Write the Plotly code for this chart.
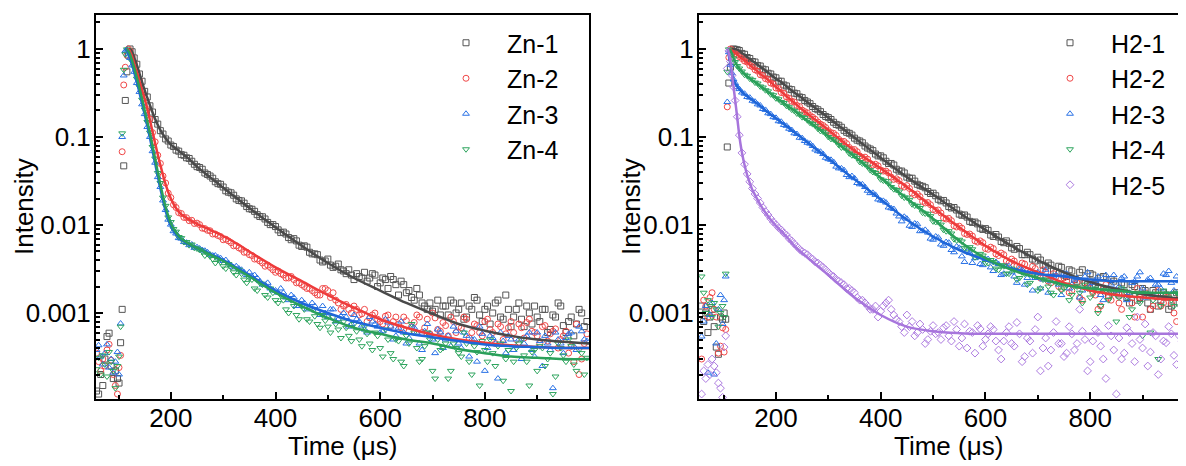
import plotly.graph_objects as go

# ---------------- time grids (µs) ----------------
T = [58, 62, 66, 70, 74, 78, 82, 86, 90, 94, 98, 101,
     104, 107, 110, 113, 116, 119, 122,
     126, 130, 135, 140, 145, 150, 155, 160, 165, 170, 175, 180, 185, 190, 195, 200,
     205, 210, 215, 220, 225, 230, 235, 240, 245, 250,
     260, 270, 280, 290, 300, 310, 320, 330, 340, 350,
     360, 370, 380, 390, 400, 410, 420, 430, 440, 450,
     460, 470, 480, 490, 500, 510, 520, 530, 540, 550,
     560, 570, 580, 590, 600, 610, 620, 630, 640, 650,
     660, 670, 680, 690, 700, 710, 720, 730, 740, 750,
     760, 770, 780, 790, 800, 810, 820, 830, 840, 850,
     860, 870, 880, 890, 900, 910, 920, 930, 940, 950,
     960, 970, 980, 990]

# second set of sample times (between the 10-µs samples above)
T_B = [255, 265, 275, 285, 295, 305, 315, 325, 335, 345,
       355, 365, 375, 385, 395, 405, 415, 425, 435, 445,
       455, 465, 475, 485, 495, 505, 515, 525, 535, 545,
       555, 565, 575, 585, 595, 605, 615, 625, 635, 645,
       655, 665, 675, 685, 695, 705, 715, 725, 735, 745,
       755, 765, 775, 785, 795, 805, 815, 825, 835, 845,
       855, 865, 875, 885, 895, 905, 915, 925, 935, 945,
       955, 965, 975, 985, 995]

TF = [104, 108, 112, 116, 120, 124, 128, 132, 136, 140, 145, 150, 155, 160, 170, 180, 190, 200,
      210, 220, 235, 250, 275, 300, 325, 350, 400, 450, 500, 550, 600, 650, 700, 750, 800, 850,
      900, 950, 1000]

# ---------------- left panel data ----------------
ZN1 = [1.3e-4, 1.2e-4, 2.0e-4, 1.5e-4, 3.0e-4, 5.4e-4, 5.9e-4, 2.5e-4, 1.8e-4, 2.2e-4, 1.8e-4, 1.6e-4,
       4.6e-4, 1.1e-3, 0.047, 0.26, 0.55, 0.85, 1.0,
       0.93, 0.79, 0.67, 0.52, 0.43, 0.33, 0.285, 0.226, 0.192, 0.158, 0.14, 0.118, 0.108, 0.095, 0.09, 0.081,
       0.078, 0.071, 0.069, 0.063, 0.062, 0.058, 0.057, 0.053, 0.049, 0.046,
       0.043, 0.0375, 0.034, 0.0295, 0.027, 0.0236, 0.0218, 0.019, 0.0177, 0.0153,
       0.0143, 0.0125, 0.0117, 0.0101, 0.0096, 0.0082, 0.0079, 0.0068, 0.0066, 0.0057,
       0.0056, 0.0047, 0.0046, 0.0038, 0.0041, 0.0033, 0.0036, 0.0030, 0.0031, 0.0024,
       0.0026, 0.0029, 0.0025, 0.0027, 0.0022, 0.0024, 0.0026, 0.0021, 0.0023, 0.0017,
       0.0015, 0.0019, 0.0013, 0.0011, 0.00105, 0.0014, 0.0012, 0.00095, 0.0013, 0.0011,
       0.00085, 0.0012, 0.0015, 0.00095, 0.0011, 0.00075, 0.0013, 0.0009, 0.0016, 0.0007,
       0.0011, 0.00085, 0.0012, 0.00075, 0.0009, 0.0011, 0.0006, 0.00095, 0.0013, 0.00072,
       0.0008, 0.00055, 0.0011, 0.0007]
ZN1_B = [0.045, 0.039, 0.036, 0.031, 0.029, 0.0245, 0.0232, 0.0198, 0.0188, 0.0162,
         0.0151, 0.0131, 0.0124, 0.0107, 0.0101, 0.0088, 0.0083, 0.0072, 0.007, 0.0059,
         0.0058, 0.0049, 0.0047, 0.004, 0.0039, 0.0035, 0.0034, 0.0031, 0.0028, 0.0027,
         0.0028, 0.0025, 0.0023, 0.0028, 0.002, 0.0025, 0.0019, 0.0024, 0.0016, 0.0021,
         0.0018, 0.0014, 0.0016, 0.0012, 0.0013, 0.0011, 0.00095, 0.0012, 0.0014, 0.001,
         0.0013, 0.0009, 0.0011, 0.0014, 0.0008, 0.0012, 0.001, 0.0014, 0.00085, 0.0011,
         0.0009, 0.0013, 0.0007, 0.001, 0.0012, 0.0008, 0.0011, 0.00065, 0.0009, 0.0012,
         0.0006, 0.0009, 0.00075, 0.001, 0.0008]
ZN2 = [3.5e-4, 2.8e-4, 2.2e-4, 3.0e-4, 2.5e-4, 3.8e-4, 4.4e-4, 2.9e-4, 2.0e-4, 1.5e-4, 1.2e-4, 2.4e-4,
       3.3e-4, 0.068, 0.39, 0.62, 0.85, 1.0, 0.95,
       0.82, 0.69, 0.54, 0.44, 0.335, 0.275, 0.205, 0.16, 0.112, 0.088, 0.062, 0.05, 0.036, 0.03, 0.023, 0.0205,
       0.017, 0.0158, 0.0138, 0.0135, 0.0122, 0.0121, 0.0112, 0.0113, 0.0104, 0.0105,
       0.0092, 0.0087, 0.0079, 0.0076, 0.0068, 0.0066, 0.0058, 0.0055, 0.0049, 0.0046,
       0.0041, 0.0039, 0.0034, 0.0033, 0.0029, 0.0028, 0.0025, 0.0026, 0.0022, 0.0021,
       0.0019, 0.0018, 0.0016, 0.0019, 0.0018, 0.0017, 0.0013, 0.0012, 0.0011, 0.0012,
       0.00095, 0.0011, 0.00088, 0.001, 0.0008, 0.00092, 0.00072, 0.0009, 0.00068, 0.00082,
       0.0007, 0.00095, 0.0006, 0.00085, 0.001, 0.00065, 0.00078, 0.00055, 0.0008, 0.0007,
       0.0009, 0.00052, 0.00075, 0.0006, 0.0008, 0.00065, 0.00045, 0.0007, 0.00058, 0.0008,
       0.0005, 0.00068, 0.00078, 0.00062, 0.00055, 0.0007, 0.00048, 0.00062, 0.0004, 0.00055,
       0.00035, 0.00028, 0.0002, 0.00045]
ZN2_B = [0.0101, 0.0091, 0.0086, 0.0079, 0.0074, 0.0069, 0.0063, 0.0058, 0.0053, 0.0049,
         0.0045, 0.0041, 0.0037, 0.0035, 0.0031, 0.003, 0.0027, 0.0025, 0.0024, 0.0022,
         0.002, 0.0019, 0.0017, 0.0016, 0.0019, 0.0015, 0.0014, 0.0011, 0.00125, 0.001,
         0.0011, 0.00098, 0.0008, 0.00095, 0.00085, 0.00075, 0.00095, 0.0008, 0.00075, 0.0009,
         0.00062, 0.00078, 0.0009, 0.00068, 0.00058, 0.00088, 0.00062, 0.00072, 0.0009, 0.0006,
         0.00068, 0.00085, 0.0006, 0.00072, 0.00055, 0.00085, 0.0006, 0.00075, 0.0005, 0.00068,
         0.0006, 0.00075, 0.00052, 0.00085, 0.0006, 0.00045, 0.00072, 0.00058, 0.00066, 0.0005,
         0.00062, 0.00042, 0.00075, 0.0003, 0.00058]
ZN3 = [3.8e-4, 4.3e-4, 3.2e-4, 2.6e-4, 3.5e-4, 4.4e-4, 2.4e-4, 3.0e-4, 2.1e-4, 2.8e-4, 3.6e-4, 2.0e-4,
       7.6e-4, 0.1, 0.5, 0.95, 0.98, 0.87, 0.79,
       0.65, 0.55, 0.41, 0.325, 0.235, 0.182, 0.13, 0.1, 0.069, 0.051, 0.035, 0.027, 0.019, 0.0148, 0.0115, 0.0101,
       0.0085, 0.008, 0.0071, 0.007, 0.0064, 0.0063, 0.0059, 0.006, 0.0055, 0.0056,
       0.0052, 0.0049, 0.0045, 0.0043, 0.0039, 0.0037, 0.0033, 0.0032, 0.0029, 0.0029,
       0.0027, 0.0023, 0.0021, 0.0019, 0.0018, 0.0019, 0.0015, 0.0016, 0.0012, 0.0014,
       0.0011, 0.0013, 0.00105, 0.0012, 0.0009, 0.0011, 0.00085, 0.001, 0.0007, 0.00095,
       0.0008, 0.00065, 0.0009, 0.00075, 0.0006, 0.00085, 0.0007, 0.00055, 0.0008, 0.00045,
       0.0007, 0.0006, 0.00038, 0.00075, 0.0005, 0.00065, 0.0004, 0.00055, 0.0007, 0.00045,
       0.0006, 0.00032, 0.0005, 0.0007, 0.00022, 0.00055, 0.00045, 0.0006, 0.00035, 0.0005,
       0.00042, 0.0003, 0.00055, 0.00038, 0.0006, 0.00025, 0.00045, 0.00014, 0.0005, 0.00035,
       0.00058, 0.00042, 0.0007, 0.0005]
ZN3_B = [0.0054, 0.0051, 0.0046, 0.0045, 0.0042, 0.004, 0.0035, 0.0034, 0.0031, 0.0027,
         0.0026, 0.0025, 0.0021, 0.0022, 0.0018, 0.0017, 0.0017, 0.0014, 0.0015, 0.0012,
         0.0013, 0.00115, 0.0012, 0.00095, 0.001, 0.0011, 0.0008, 0.00092, 0.0009, 0.00075,
         0.00085, 0.00072, 0.0006, 0.0008, 0.0007, 0.00062, 0.00078, 0.0005, 0.00068, 0.0006,
         0.00052, 0.00068, 0.00045, 0.00062, 0.00058, 0.00035, 0.0006, 0.0005, 0.00042, 0.00062,
         0.0004, 0.00055, 0.0005, 0.00028, 0.00058, 0.0004, 0.00052, 0.00018, 0.00048, 0.00055,
         0.00038, 0.0005, 0.00045, 0.0006, 0.00032, 0.00048, 0.00055, 0.00038, 0.0006, 0.00045,
         0.00052, 0.0006, 0.00038, 0.00062, 0.00048]
ZN4 = [2.3e-4, 3.1e-4, 2.0e-4, 3.3e-4, 2.6e-4, 1.9e-4, 3.6e-4, 2.8e-4, 2.2e-4, 1.4e-4, 2.5e-4, 3.2e-4,
       7.0e-4, 0.11, 0.58, 0.87, 0.99, 0.96, 0.88,
       0.72, 0.62, 0.46, 0.37, 0.265, 0.205, 0.148, 0.112, 0.077, 0.057, 0.039, 0.03, 0.0205, 0.0165, 0.0122, 0.0108,
       0.009, 0.0084, 0.0073, 0.0071, 0.0064, 0.0064, 0.0059, 0.006, 0.0055, 0.0054,
       0.0050, 0.0047, 0.0041, 0.0040, 0.0034, 0.0036, 0.0029, 0.0031, 0.0024, 0.0025,
       0.0019, 0.0022, 0.0016, 0.0019, 0.0014, 0.0016, 0.0011, 0.0014, 0.00095, 0.0012,
       0.00085, 0.0011, 0.00075, 0.00095, 0.0007, 0.0009, 0.00065, 0.0008, 0.00055, 0.00075,
       0.0005, 0.0007, 0.00045, 0.0006, 0.0004, 0.00065, 0.00035, 0.0005, 0.00028, 0.00055,
       0.00075, 0.0004, 0.0003, 0.0006, 0.00022, 0.0005, 0.0004, 0.00018, 0.00045, 0.00035,
       0.0006, 0.00028, 0.00042, 0.00015, 0.00038, 0.0005, 0.00025, 0.00045, 0.0003, 0.00013,
       0.0004, 0.0005, 0.00028, 0.00036, 0.00022, 0.0004, 0.0003, 0.00012, 0.00045, 0.00033,
       0.0005, 0.00026, 0.00038, 0.0002]
ZN4_B = [0.0052, 0.0045, 0.0044, 0.0037, 0.0038, 0.0032, 0.0033, 0.0027, 0.0028, 0.0022,
         0.0024, 0.0018, 0.0021, 0.0015, 0.0017, 0.0013, 0.0014, 0.001, 0.0012, 0.00085,
         0.0011, 0.0008, 0.00092, 0.00068, 0.00082, 0.0006, 0.00075, 0.00052, 0.00068, 0.00048,
         0.00062, 0.00042, 0.00058, 0.00038, 0.00055, 0.00032, 0.0005, 0.0003, 0.00048, 0.00025,
         0.00045, 0.0006, 0.00028, 0.00042, 0.0005, 0.00018, 0.00038, 0.00045, 0.00022, 0.0004,
         0.00032, 0.00045, 0.0002, 0.00036, 0.00048, 0.00028, 0.00035, 0.00042, 0.00017, 0.00038,
         0.00028, 0.00045, 0.00033, 0.00015, 0.00038, 0.00042, 0.00025, 0.00035, 0.00019, 0.0004,
         0.00028, 0.00042, 0.00022, 0.00035, 0.00031]

ZN1_FIT = [None, None, None, None, 1.0, 0.97, 0.86, 0.74, 0.63, 0.53, 0.42, 0.34, 0.28, 0.23, 0.16, 0.12,
           0.097, 0.082, 0.0735, 0.066, 0.056, 0.046, 0.035, 0.0265, 0.0203, 0.0156, 0.0094, 0.0058, 0.0037,
           0.0025, 0.0018, 0.0013, 0.00098, 0.00075, 0.00063, 0.00055, 0.0005, 0.00047, 0.00045]
ZN2_FIT = [None, None, None, 1.0, 0.98, 0.88, 0.75, 0.62, 0.52, 0.43, 0.34, 0.27, 0.21, 0.156, 0.085, 0.048,
           0.029, 0.020, 0.0155, 0.0132, 0.0115, 0.0103, 0.0088, 0.0075, 0.0062, 0.0050, 0.0033, 0.0023,
           0.0016, 0.00115, 0.00085, 0.00068, 0.00057, 0.0005, 0.00046, 0.00043, 0.00041, 0.0004, 0.0004]
ZN3_FIT = [None, None, 1.0, 0.97, 0.85, 0.72, 0.60, 0.49, 0.40, 0.32, 0.24, 0.18, 0.135, 0.098, 0.050, 0.026,
           0.0145, 0.0098, 0.0078, 0.0068, 0.006, 0.0055, 0.0047, 0.0040, 0.0033, 0.0027, 0.0018, 0.0013,
           0.001, 0.0008, 0.00068, 0.00059, 0.00053, 0.00048, 0.00044, 0.00042, 0.00041, 0.0004, 0.0004]
ZN4_FIT = [None, None, None, 1.0, 0.93, 0.80, 0.67, 0.55, 0.45, 0.36, 0.27, 0.20, 0.15, 0.11, 0.056, 0.029,
           0.016, 0.0105, 0.0082, 0.007, 0.0061, 0.0055, 0.0046, 0.0039, 0.0032, 0.0026, 0.0017, 0.0012,
           0.00088, 0.00068, 0.00058, 0.0005, 0.00045, 0.00039, 0.00035, 0.00032, 0.00031, 0.0003, 0.0003]

# ---------------- right panel data ----------------
H21 = [1.2e-3, 8e-4, 1.0e-3, 6e-4, 9e-4, 1.1e-3, 7e-4, 4.1e-4, 3.4e-4, 9e-4, 8.5e-4, 1.0e-3,
       8.5e-4, 0.077, 0.41, 0.62, 0.95, 1.0, 0.99,
       0.98, 0.96, 0.89, 0.87, 0.80, 0.78, 0.72, 0.71, 0.65, 0.64, 0.59, 0.58, 0.53, 0.52, 0.48, 0.47,
       0.43, 0.43, 0.39, 0.38, 0.35, 0.345, 0.315, 0.31, 0.285, 0.28,
       0.25, 0.222, 0.204, 0.18, 0.166, 0.147, 0.136, 0.119, 0.11, 0.097,
       0.09, 0.079, 0.073, 0.064, 0.061, 0.053, 0.05, 0.043, 0.041, 0.035,
       0.034, 0.029, 0.0275, 0.024, 0.023, 0.0196, 0.019, 0.0162, 0.0158, 0.0133,
       0.013, 0.011, 0.0108, 0.0092, 0.0091, 0.0077, 0.0078, 0.0065, 0.0066, 0.0055,
       0.0057, 0.0046, 0.0049, 0.0041, 0.0043, 0.0035, 0.0037, 0.003, 0.0034, 0.0027,
       0.0031, 0.0024, 0.0029, 0.0022, 0.0028, 0.0021, 0.0025, 0.0018, 0.0024, 0.0017,
       0.0022, 0.0015, 0.0021, 0.0014, 0.0019, 0.0013, 0.0018, 0.0012, 0.0017, 0.0011,
       0.0016, 0.0013, 0.0015, 0.0012]
H21_B = [0.26, 0.239, 0.21, 0.194, 0.171, 0.158, 0.139, 0.129, 0.113, 0.105,
         0.092, 0.086, 0.075, 0.07, 0.061, 0.058, 0.05, 0.048, 0.041, 0.039,
         0.034, 0.0315, 0.028, 0.0265, 0.0228, 0.0215, 0.0188, 0.0178, 0.0156, 0.0148,
         0.0129, 0.0123, 0.0107, 0.0103, 0.0089, 0.0087, 0.0074, 0.0073, 0.0063, 0.0062,
         0.0053, 0.0054, 0.0046, 0.0046, 0.0039, 0.004, 0.0034, 0.0035, 0.0029, 0.0033,
         0.0026, 0.003, 0.0023, 0.0031, 0.0021, 0.0027, 0.0019, 0.0026, 0.0016, 0.0023,
         0.0016, 0.0021, 0.0013, 0.002, 0.0015, 0.0018, 0.0011, 0.0017, 0.0014, 0.0016,
         0.0012, 0.0017, 0.0014, 0.0013, 0.0015]
H22 = [3.0e-4, 1.4e-3, 1.2e-3, 9e-4, 1.5e-3, 1.7e-3, 1.1e-3, 9e-4, 3.5e-4, 4.2e-4, 6.8e-4, 3.6e-4,
       6.5e-4, 0.22, 0.8, 1.0, 0.97, 0.93, 0.89,
       0.86, 0.82, 0.78, 0.73, 0.71, 0.65, 0.63, 0.58, 0.56, 0.51, 0.50, 0.46, 0.45, 0.41, 0.40, 0.36,
       0.355, 0.32, 0.315, 0.285, 0.275, 0.255, 0.25, 0.228, 0.222, 0.202,
       0.188, 0.168, 0.148, 0.135, 0.118, 0.11, 0.094, 0.089, 0.076, 0.072,
       0.061, 0.059, 0.05, 0.049, 0.042, 0.041, 0.035, 0.0335, 0.028, 0.028,
       0.023, 0.0225, 0.0185, 0.018, 0.015, 0.0148, 0.012, 0.0119, 0.0098, 0.0097,
       0.008, 0.0079, 0.0066, 0.0066, 0.0054, 0.0056, 0.0047, 0.0048, 0.0039, 0.0041,
       0.0034, 0.0037, 0.003, 0.0034, 0.0027, 0.0031, 0.0023, 0.0028, 0.002, 0.0025,
       0.0017, 0.0024, 0.0015, 0.0022, 0.0019, 0.0016, 0.0012, 0.0021, 0.0014, 0.0018,
       0.0011, 0.0017, 0.0013, 0.0019, 0.0009, 0.0016, 0.0012, 0.0018, 0.0013, 0.0015,
       0.001, 0.0016, 0.0012, 0.0014]
H22_B = [0.194, 0.175, 0.159, 0.14, 0.128, 0.112, 0.104, 0.089, 0.084, 0.072,
         0.068, 0.058, 0.056, 0.048, 0.047, 0.041, 0.039, 0.033, 0.032, 0.027,
         0.026, 0.022, 0.021, 0.0178, 0.017, 0.0146, 0.0137, 0.0117, 0.0112, 0.0095,
         0.0092, 0.0078, 0.0075, 0.0064, 0.0063, 0.0053, 0.0054, 0.0045, 0.0046, 0.0037,
         0.0039, 0.0033, 0.0036, 0.0029, 0.0032, 0.0025, 0.0029, 0.0022, 0.0026, 0.0019,
         0.0023, 0.0018, 0.0022, 0.0014, 0.002, 0.0017, 0.0011, 0.0019, 0.0015, 0.0018,
         0.0013, 0.0017, 0.0016, 0.0009, 0.0015, 0.0017, 0.0011, 0.0016, 0.0012, 0.0015,
         0.0013, 0.0008, 0.0015, 0.0012, 0.0014]
H23 = [5.4e-4, 8.0e-4, 1.2e-3, 2.1e-4, 9.5e-4, 1.3e-3, 2.0e-4, 4.5e-4, 1.1e-3, 1.6e-3, 7.5e-4, 1.4e-3,
       2.6e-3, 0.25, 0.92, 0.66, 0.53, 0.45, 0.41,
       0.37, 0.35, 0.32, 0.31, 0.285, 0.28, 0.258, 0.252, 0.235, 0.228, 0.208, 0.203, 0.186, 0.182, 0.168, 0.165,
       0.151, 0.149, 0.137, 0.134, 0.124, 0.12, 0.11, 0.108, 0.098, 0.097,
       0.086, 0.079, 0.069, 0.064, 0.056, 0.052, 0.044, 0.042, 0.035, 0.034,
       0.029, 0.027, 0.023, 0.022, 0.019, 0.018, 0.0155, 0.0135, 0.011, 0.0118,
       0.0095, 0.0102, 0.0086, 0.0082, 0.0068, 0.0072, 0.0058, 0.0063, 0.0049, 0.0055,
       0.0038, 0.0048, 0.0042, 0.0036, 0.0041, 0.0033, 0.0038, 0.0027, 0.0034, 0.0029,
       0.0022, 0.0031, 0.0025, 0.0018, 0.0029, 0.0024, 0.0017, 0.0026, 0.0021, 0.0028,
       0.0019, 0.0024, 0.0015, 0.0026, 0.002, 0.0023, 0.0016, 0.0027, 0.0021, 0.0018,
       0.0025, 0.0014, 0.0022, 0.0026, 0.0019, 0.0024, 0.0016, 0.0021, 0.0028, 0.003,
       0.0018, 0.0023, 0.0015, 0.0025]
H23_B = [0.09, 0.084, 0.072, 0.068, 0.058, 0.055, 0.046, 0.044, 0.037, 0.036,
         0.03, 0.029, 0.0245, 0.0232, 0.0195, 0.0188, 0.0158, 0.0152, 0.0125, 0.0124,
         0.0098, 0.0104, 0.0085, 0.0088, 0.007, 0.0074, 0.006, 0.0064, 0.0052, 0.0057,
         0.0044, 0.005, 0.0037, 0.0045, 0.0035, 0.0041, 0.003, 0.0036, 0.0028, 0.0034,
         0.0026, 0.0032, 0.0021, 0.003, 0.0025, 0.0019, 0.0031, 0.0023, 0.0027, 0.0016,
         0.0028, 0.0021, 0.0025, 0.0018, 0.0029, 0.0022, 0.0026, 0.0014, 0.0024, 0.0027,
         0.002, 0.0026, 0.0017, 0.0023, 0.0029, 0.0015, 0.0025, 0.0021, 0.0019, 0.0027,
         0.0022, 0.0026, 0.002, 0.0028, 0.0021]
H24 = [2.6e-3, 1.7e-3, 1.0e-3, 1.4e-3, 1.2e-3, 9e-4, 1.3e-3, 1.1e-3, 7e-4, 1.0e-3, 1.2e-3, 9e-4,
       2.8e-3, 0.55, 0.99, 0.96, 0.87, 0.78, 0.71,
       0.64, 0.60, 0.555, 0.51, 0.495, 0.46, 0.445, 0.415, 0.405, 0.375, 0.365, 0.34, 0.33, 0.305, 0.298, 0.275,
       0.268, 0.25, 0.243, 0.226, 0.218, 0.205, 0.198, 0.185, 0.18, 0.168,
       0.155, 0.14, 0.124, 0.115, 0.1, 0.094, 0.081, 0.076, 0.065, 0.061,
       0.052, 0.049, 0.042, 0.039, 0.033, 0.0315, 0.027, 0.025, 0.0215, 0.0205,
       0.0172, 0.0165, 0.0138, 0.0134, 0.011, 0.0108, 0.0088, 0.0085, 0.0069, 0.0068,
       0.0055, 0.0056, 0.0043, 0.0047, 0.0037, 0.004, 0.0032, 0.0035, 0.0028, 0.0032,
       0.0024, 0.0029, 0.0021, 0.0027, 0.0018, 0.0024, 0.002, 0.0016, 0.0022, 0.0019,
       0.0014, 0.002, 0.0017, 0.0021, 0.0015, 0.0019, 0.0012, 0.0018, 0.0016, 0.0008,
       0.0019, 0.0015, 0.0011, 0.0017, 0.00055, 0.0016, 0.0014, 0.0003, 0.0018, 0.0015,
       0.0012, 0.0016, 0.0014, 0.0017]
H24_B = [0.165, 0.145, 0.134, 0.117, 0.109, 0.095, 0.089, 0.076, 0.072, 0.062,
         0.058, 0.05, 0.046, 0.04, 0.037, 0.032, 0.0295, 0.0255, 0.024, 0.0205,
         0.0193, 0.0166, 0.0156, 0.0135, 0.0126, 0.0108, 0.0101, 0.0085, 0.008, 0.0067,
         0.0065, 0.0054, 0.0053, 0.0044, 0.0045, 0.0037, 0.0038, 0.0031, 0.0034, 0.0028,
         0.0031, 0.0025, 0.0028, 0.0022, 0.0026, 0.0019, 0.0024, 0.0017, 0.0022, 0.0018,
         0.0021, 0.0016, 0.002, 0.0013, 0.0019, 0.0017, 0.001, 0.0018, 0.0014, 0.0017,
         0.0015, 0.0018, 0.0009, 0.0016, 0.0013, 0.0017, 0.0006, 0.0015, 0.0012, 0.0016,
         0.0014, 0.0017, 0.0011, 0.0015, 0.0016]
H25 = [1.2e-4, 2.2e-4, 1.8e-4, 2.6e-4, 2.0e-4, 3.0e-4, 2.5e-4, 2.1e-4, 1.6e-4, 1.4e-4, 1.1e-4, 4.1e-4,
       5.5e-4, 0.6, 0.95, 0.72, 0.5, 0.37, 0.26,
       0.17, 0.105, 0.066, 0.049, 0.038, 0.031, 0.026, 0.0225, 0.02, 0.0178, 0.0158, 0.0142, 0.013, 0.0118, 0.0108, 0.0101,
       0.0093, 0.0088, 0.0081, 0.0077, 0.007, 0.0066, 0.0061, 0.0057, 0.0053, 0.005,
       0.0046, 0.0041, 0.0037, 0.0033, 0.0029, 0.0026, 0.0023, 0.0021, 0.0019, 0.0017,
       0.0014, 0.0013, 0.0011, 0.0012, 0.00105, 0.0013, 0.0011, 0.00085, 0.0007, 0.00095,
       0.0008, 0.0006, 0.00065, 0.0005, 0.00072, 0.0006, 0.00068, 0.00055, 0.0008, 0.00042,
       0.00075, 0.00062, 0.00035, 0.00066, 0.0005, 0.0007, 0.00048, 0.0003, 0.0006, 0.00045,
       0.00078, 0.00028, 0.00052, 0.00035, 0.0009, 0.0004, 0.00025, 0.0006, 0.00045, 0.00032,
       0.0007, 0.00038, 0.0011, 0.0005, 0.00028, 0.00065, 0.00042, 0.00018, 0.00055, 0.00012,
       0.0003, 0.00068, 0.00045, 0.0009, 0.0004, 0.00025, 0.0006, 0.0002, 0.00048, 0.0007,
       0.00033, 0.00055, 0.00022, 0.0004]
H25_B = [0.0048, 0.0043, 0.0038, 0.0035, 0.0031, 0.0027, 0.0024, 0.0022, 0.0019, 0.0018,
         0.0015, 0.0014, 0.0012, 0.0011, 0.0009, 0.0012, 0.0014, 0.00095, 0.0008, 0.0006,
         0.0007, 0.00055, 0.00075, 0.00045, 0.00062, 0.00058, 0.0005, 0.00072, 0.00048, 0.00065,
         0.00052, 0.0004, 0.0006, 0.00072, 0.00042, 0.00058, 0.00065, 0.00038, 0.00048, 0.0007,
         0.00042, 0.00058, 0.00032, 0.00048, 0.00065, 0.00022, 0.00052, 0.00038, 0.0008, 0.00045,
         0.00035, 0.00058, 0.00045, 0.00062, 0.00022, 0.00048, 0.0006, 0.0003, 0.00072, 0.00038,
         0.00052, 0.00035, 0.0006, 0.00028, 0.0005, 0.00075, 0.00036, 0.00055, 0.0003, 0.00046,
         0.00058, 0.00026, 0.00048, 0.0006, 0.00035]

H21_FIT = [None, None, None, 1.0, 1.0, 0.99, 0.97, 0.93, 0.89, 0.86, 0.81, 0.77, 0.73, 0.70, 0.63, 0.57,
           0.51, 0.46, 0.42, 0.376, 0.32, 0.276, 0.213, 0.165, 0.127, 0.098, 0.058, 0.035, 0.0222, 0.0138,
           0.0088, 0.0058, 0.0040, 0.0029, 0.00225, 0.00187, 0.00164, 0.0015, 0.00142]
H22_FIT = [None, None, 1.0, 0.96, 0.92, 0.88, 0.84, 0.80, 0.77, 0.74, 0.70, 0.66, 0.62, 0.59, 0.52, 0.47,
           0.42, 0.37, 0.33, 0.29, 0.245, 0.205, 0.157, 0.12, 0.091, 0.07, 0.044, 0.027, 0.0158, 0.0094,
           0.0058, 0.0039, 0.0029, 0.0022, 0.0018, 0.0016, 0.0015, 0.00143, 0.0014]
H23_FIT = [None, 0.98, 0.72, 0.53, 0.43, 0.39, 0.36, 0.34, 0.32, 0.305, 0.29, 0.275, 0.262, 0.25, 0.225, 0.20,
           0.18, 0.163, 0.147, 0.133, 0.113, 0.097, 0.074, 0.057, 0.043, 0.033, 0.0195, 0.0115, 0.0074,
           0.0052, 0.004, 0.0032, 0.0028, 0.0026, 0.0024, 0.0023, 0.0023, 0.0023, 0.0023]
H24_FIT = [None, None, 1.0, 0.88, 0.76, 0.68, 0.62, 0.58, 0.55, 0.52, 0.49, 0.465, 0.44, 0.42, 0.38, 0.345,
           0.31, 0.28, 0.255, 0.23, 0.20, 0.17, 0.132, 0.102, 0.078, 0.06, 0.0345, 0.02, 0.0118, 0.0066,
           0.0042, 0.0031, 0.0025, 0.0021, 0.0019, 0.0018, 0.0017, 0.0017, 0.0017]
H25_FIT = [None, 1.0, 0.78, 0.52, 0.33, 0.21, 0.13, 0.085, 0.062, 0.048, 0.037, 0.03, 0.025, 0.022, 0.017,
           0.0138, 0.0115, 0.0098, 0.0085, 0.0074, 0.0058, 0.0048, 0.0036, 0.0027, 0.002, 0.0015, 0.00095,
           0.0007, 0.00062, 0.00059, 0.00058, 0.00058, 0.00058, 0.00058, 0.00058, 0.00058, 0.00058,
           0.00058, 0.00058]

LEFT_NAMES = ["Zn-1", "Zn-2", "Zn-3", "Zn-4"]
RIGHT_NAMES = ["H2-1", "H2-2", "H2-3", "H2-4", "H2-5"]
Y_TICKS = [0.001, 0.01, 0.1, 1]
Y_TICKTEXT = ["0.001", "0.01", "0.1", "1"]
X_TICKS = [200, 400, 600, 800]
X_MINOR = [100, 300, 500, 700, 900]

for s in [ZN1, ZN2, ZN3, ZN4, H21, H22, H23, H24, H25]:
    assert len(s) == len(T), len(s)
for s in [ZN1_B, ZN2_B, ZN3_B, ZN4_B, H21_B, H22_B, H23_B, H24_B, H25_B]:
    assert len(s) == len(T_B), len(s)
for s in [ZN1_FIT, ZN2_FIT, ZN3_FIT, ZN4_FIT, H21_FIT, H22_FIT, H23_FIT, H24_FIT, H25_FIT]:
    assert len(s) == len(TF), len(s)

# ---------------- styles ----------------
MARKER_COLORS = ["#555555", "#f04848", "#2a72e6", "#2ea55e", "#ad7be0"]
LINE_COLORS = ["#4a4a4a", "#ee3b3b", "#1f66d8", "#2aa05a", "#a775dc"]
SYMBOLS = ["square-open", "circle-open", "triangle-up-open", "triangle-down-open", "diamond-open"]
FONT = "Liberation Sans, Arial, sans-serif"

fig = go.Figure()

left_data = [(ZN1, ZN1_B), (ZN2, ZN2_B), (ZN3, ZN3_B), (ZN4, ZN4_B)]
left_fit = [ZN1_FIT, ZN2_FIT, ZN3_FIT, ZN4_FIT]
right_data = [(H21, H21_B), (H22, H22_B), (H23, H23_B), (H24, H24_B), (H25, H25_B)]
right_fit = [H21_FIT, H22_FIT, H23_FIT, H24_FIT, H25_FIT]

for i, (name, (ya, yb)) in enumerate(zip(LEFT_NAMES, left_data)):
    fig.add_trace(go.Scatter(x=T + T_B, y=ya + yb, mode="markers", name=name, xaxis="x", yaxis="y",
                             legend="legend",
                             marker=dict(symbol=SYMBOLS[i], size=6, color=MARKER_COLORS[i],
                                         line=dict(width=1, color=MARKER_COLORS[i]))))
for i, ys in enumerate(left_fit):
    fig.add_trace(go.Scatter(x=TF, y=ys, mode="lines", showlegend=False, xaxis="x", yaxis="y",
                             line=dict(color=LINE_COLORS[i], width=2.5, shape="spline")))

for i, (name, (ya, yb)) in enumerate(zip(RIGHT_NAMES, right_data)):
    fig.add_trace(go.Scatter(x=T + T_B, y=ya + yb, mode="markers", name=name, xaxis="x2", yaxis="y2",
                             legend="legend2",
                             marker=dict(symbol=SYMBOLS[i], size=6, color=MARKER_COLORS[i],
                                         line=dict(width=1, color=MARKER_COLORS[i]))))
for i, ys in enumerate(right_fit):
    fig.add_trace(go.Scatter(x=TF, y=ys, mode="lines", showlegend=False, xaxis="x2", yaxis="y2",
                             line=dict(color=LINE_COLORS[i], width=2.5, shape="spline")))

# the page body has an 8 px margin, so the figure is drawn 8 px in from the window corner
OFF = 8
W, H = 1186 - OFF, 466 - OFF


def px(x):
    return (x - OFF) / W


def py(y):
    return 1 - (y - OFF) / H


xaxis_common = dict(
    type="linear", showline=True, linecolor="black", linewidth=2,
    ticks="inside", ticklen=7, tickwidth=2, tickcolor="black",
    tickvals=X_TICKS, showgrid=False, zeroline=False, ticklabelstandoff=-5,
    tickfont=dict(family=FONT, size=26, color="black"),
    minor=dict(tickvals=X_MINOR, ticks="inside", ticklen=4, tickwidth=1.5,
               tickcolor="black", showgrid=False),
)
yaxis_common = dict(
    type="log", range=[-3.977, 0.386], showline=True, linecolor="black", linewidth=2,
    ticks="inside", ticklen=7, tickwidth=2, tickcolor="black",
    tickvals=Y_TICKS, ticktext=Y_TICKTEXT, showgrid=False, zeroline=False, ticklabelstandoff=-2,
    tickfont=dict(family=FONT, size=26, color="black"),
    minor=dict(dtick="D1", ticks="inside", ticklen=4, tickwidth=1.5, tickcolor="black", showgrid=False),
)

legend_common = dict(xanchor="left", yanchor="top", bgcolor="rgba(0,0,0,0)",
                     font=dict(family=FONT, size=25, color="black"), itemwidth=72, tracegroupgap=0)

title_font = dict(family=FONT, size=26, color="black")

fig.update_layout(
    width=W, height=H, margin=dict(l=0, r=0, t=0, b=0, autoexpand=False),
    paper_bgcolor="white", plot_bgcolor="white",
    font=dict(family=FONT, size=26, color="black"),
    xaxis=dict(xaxis_common, domain=[px(96), px(589)], range=[57, 999], anchor="y", mirror=True),
    yaxis=dict(yaxis_common, domain=[py(399), py(15)], anchor="x", mirror=True),
    xaxis2=dict(xaxis_common, domain=[px(699), 1.0], range=[53, 983], anchor="y2", mirror=True),
    yaxis2=dict(yaxis_common, domain=[py(399), py(15)], anchor="x2", mirror=False),
    legend=dict(legend_common, x=px(425), y=py(20)),
    legend2=dict(legend_common, x=px(1029), y=py(20)),
    annotations=[
        dict(text="Intensity", x=px(24), y=py(207), xref="paper", yref="paper", showarrow=False,
             xanchor="center", yanchor="middle", textangle=-90, font=title_font),
        dict(text="Intensity", x=px(631), y=py(207), xref="paper", yref="paper", showarrow=False,
             xanchor="center", yanchor="middle", textangle=-90, font=title_font),
        dict(text="Time (μs)", x=px(342), y=py(446), xref="paper", yref="paper", showarrow=False,
             xanchor="center", yanchor="middle", font=title_font),
        dict(text="Time (μs)", x=px(948), y=py(446), xref="paper", yref="paper", showarrow=False,
             xanchor="center", yanchor="middle", font=title_font),
    ],
)

fig.write_html("out.html")
